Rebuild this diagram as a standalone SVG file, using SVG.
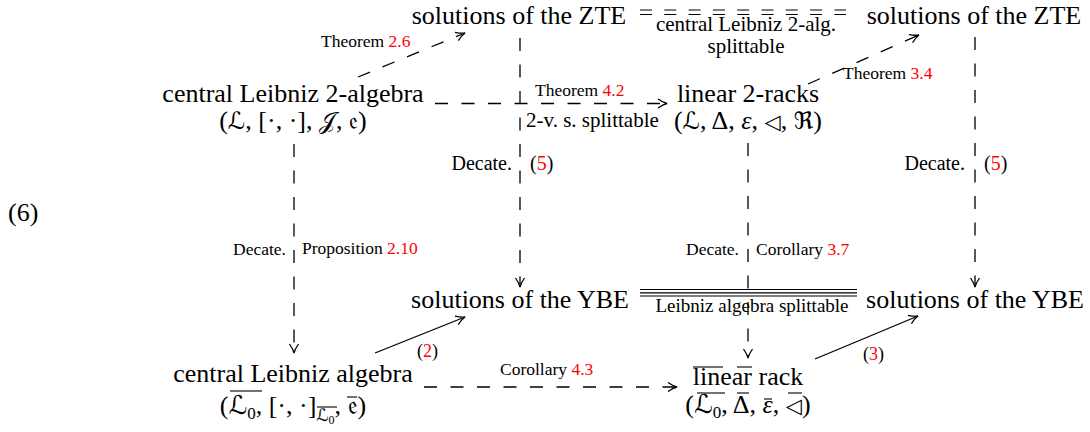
<svg xmlns="http://www.w3.org/2000/svg" width="1090" height="432" viewBox="0 0 1090 432">
<style>
text { font-family: "Liberation Serif", "DejaVu Serif", "DejaVu Sans", serif; fill: #000; }
.m { font-size: 26px; }
.s { font-size: 17.5px; }
.k { font-size: 20px; }
.l { font-size: 21px; }
.r { fill: #ff0000; }
.i { font-style: italic; }
.sym { font-size: 24px; }
.tri { font-size: 21px; }
.c { stroke: #000; stroke-width: 1.3; fill: none; }
.d { stroke-dasharray: 13 13.5; }
.ov { stroke: #000; stroke-width: 1.1; }
.ah { stroke: #000; stroke-width: 1.3; fill: none; stroke-dasharray: none; }
</style>
<defs>
<marker id="arr" markerUnits="userSpaceOnUse" viewBox="-11 -6 12 12" markerWidth="12" markerHeight="12" refX="0" refY="0" orient="auto" overflow="visible">
<path class="ah" d="M-9,-4.5 Q-4,-1 0,0 Q-4,1 -9,4.5"/>
</marker>
</defs>

<g id="connectors">
<path class="c d" d="M358,77 L465,33" marker-end="url(#arr)"/>
<path class="c d" d="M435,103.5 L667,103.5" marker-end="url(#arr)"/>
<path class="c d" d="M808,84 L919,35" marker-end="url(#arr)"/>
<path class="c" style="stroke-dasharray:12 12.3;stroke-width:1.2" d="M640,10 L846,10 M640,14.5 L846,14.5"/>
<path class="c d" d="M294,144 L294,353" marker-end="url(#arr)"/>
<path class="c d" d="M520,38 L520,287" marker-end="url(#arr)"/>
<path class="c d" d="M748,143 L748,358" marker-end="url(#arr)"/>
<path class="c d" d="M975,37 L975,287" marker-end="url(#arr)"/>
<path class="c" style="stroke-width:1.2" d="M640,289.5 L857,289.5 M640,292.8 L857,292.8 M640,296 L857,296"/>
<path class="c d" d="M424,387 L677,387" marker-end="url(#arr)"/>
<path class="c" d="M375,353 L465,317" marker-end="url(#arr)"/>
<path class="c" d="M815,359 L918,316" marker-end="url(#arr)"/>

<text class="s" x="321" y="47">Theorem <tspan class="r">2.6</tspan></text>
<text class="s" x="535" y="96">Theorem <tspan class="r">4.2</tspan></text>
<text class="l" x="526" y="127">2-v. s. splittable</text>
<text class="l" x="746" y="31" text-anchor="middle">central Leibniz 2-alg.</text>
<text class="l" x="746" y="53" text-anchor="middle">splittable</text>
<text class="s" x="843" y="79">Theorem <tspan class="r">3.4</tspan></text>
<text class="k" x="512" y="170" text-anchor="end">Decate.</text>
<text class="k" x="530" y="170">(<tspan class="r">5</tspan>)</text>
<text class="k" x="965" y="170" text-anchor="end">Decate.</text>
<text class="k" x="984" y="170">(<tspan class="r">5</tspan>)</text>
<text class="s" x="286" y="255" text-anchor="end">Decate.</text>
<text class="s" x="302" y="254">Proposition <tspan class="r">2.10</tspan></text>
<text class="s" x="739" y="255" text-anchor="end">Decate.</text>
<text class="s" x="756" y="255">Corollary <tspan class="r">3.7</tspan></text>
<text x="752" y="312" text-anchor="middle" style="font-size:19px">Leibniz algebra splittable</text>
<text x="417" y="357" style="font-size:18px">(<tspan class="r">2</tspan>)</text>
<text x="863" y="360" style="font-size:18px">(<tspan class="r">3</tspan>)</text>
<text class="s" x="500" y="375">Corollary <tspan class="r">4.3</tspan></text>
</g>

<g id="eq-number">
<text class="m" x="8" y="221">(6)</text>
</g>

<g id="zte-left">
<text class="m" x="519" y="24" text-anchor="middle">solutions of the ZTE</text>
</g>
<g id="zte-right">
<text class="m" x="974" y="24" text-anchor="middle">solutions of the ZTE</text>
</g>
<g id="central-leibniz-2-algebra">
<text class="m" x="293" y="102" text-anchor="middle">central Leibniz 2-algebra</text>
<text class="m" x="293" y="129" text-anchor="middle">(<tspan class="sym">ℒ</tspan>, [·, ·], <tspan class="sym">𝒥</tspan>, <tspan class="sym">𝔢</tspan>)</text>
</g>
<g id="linear-2-racks">
<text class="m" x="748" y="102" text-anchor="middle">linear 2-racks</text>
<text class="m" x="748" y="129" text-anchor="middle">(<tspan class="sym">ℒ</tspan>, Δ, <tspan class="i">ε</tspan>, <tspan class="tri">◁</tspan>, <tspan class="sym">ℜ</tspan>)</text>
</g>
<g id="ybe-left">
<text class="m" x="520" y="308" text-anchor="middle">solutions of the YBE</text>
</g>
<g id="ybe-right">
<text class="m" x="975" y="308" text-anchor="middle">solutions of the YBE</text>
</g>
<g id="central-leibniz-algebra">
<text class="m" x="293" y="382" text-anchor="middle">central Leibniz algebra</text>
<text class="m" x="293" y="414" text-anchor="middle">(ℒ<tspan dy="5" style="font-size:17px">0</tspan><tspan dy="-5">, [·, ·]</tspan><tspan dy="7" style="font-size:17px">ℒ</tspan><tspan style="font-size:12px" dy="3">0</tspan><tspan dy="-10">, 𝔢)</tspan></text>
<line class="ov" x1="230" y1="391" x2="262" y2="391"/>
<line class="ov" x1="317" y1="407" x2="337" y2="407"/>
<line class="ov" x1="347" y1="397" x2="357" y2="397"/>
</g>
<g id="linear-rack">
<text class="m" x="748" y="385" text-anchor="middle">linear rack</text>
<line class="ov" x1="693" y1="367" x2="723" y2="367"/>
<line class="ov" x1="737" y1="367" x2="752" y2="367"/>
<text class="m" x="748" y="413" text-anchor="middle">(ℒ<tspan dy="5" style="font-size:17px">0</tspan><tspan dy="-5">, Δ, </tspan><tspan class="i">ε</tspan>, <tspan class="tri">◁</tspan>)</text>
<line class="ov" x1="697" y1="393" x2="725" y2="393"/>
<line class="ov" x1="737" y1="393" x2="749" y2="393"/>
<line class="ov" x1="764" y1="399" x2="772" y2="399"/>
<line class="ov" x1="788" y1="393" x2="802" y2="393"/>
</g>
</svg>
